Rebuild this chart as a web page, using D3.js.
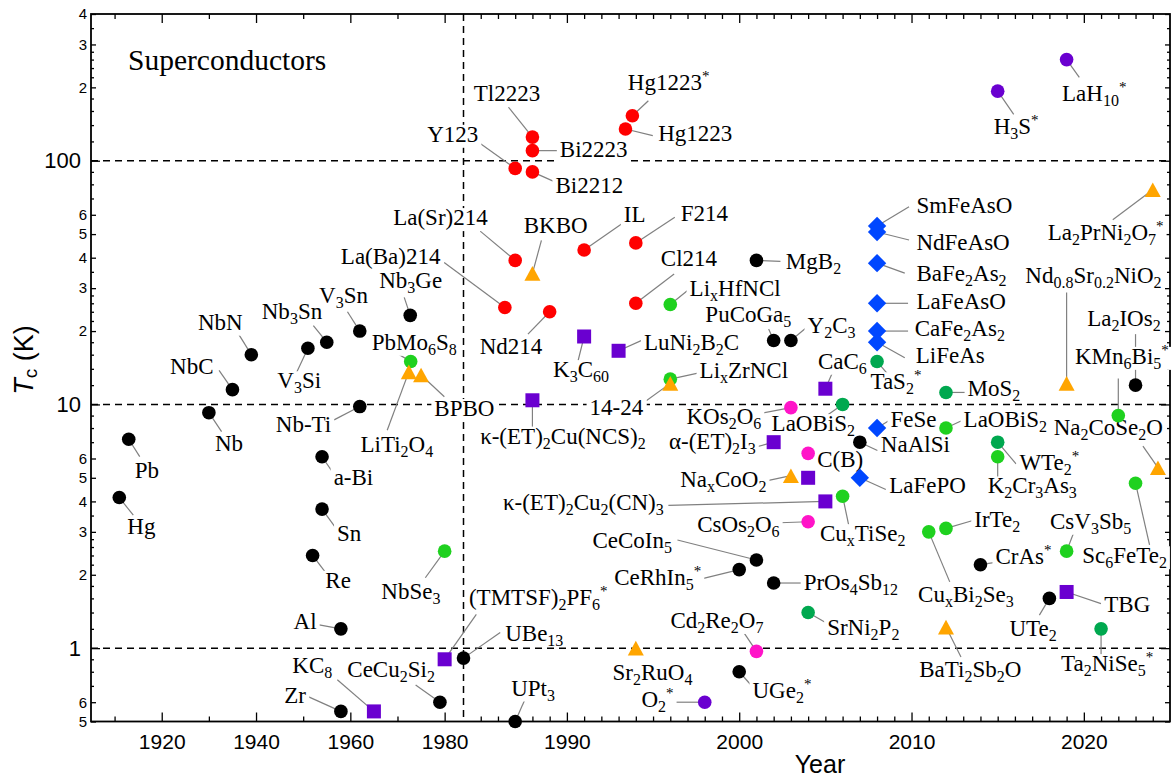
<!DOCTYPE html>
<html>
<head>
<meta charset="utf-8">
<script src="https://cdn.jsdelivr.net/npm/d3@7"></script>
<style>
  body { margin: 0; background: #fff; }
  svg { display: block; }
  .lbl { font-family: "Liberation Serif", "Times New Roman", serif; font-size: 23px; fill: #000; }
</style>
</head>
<body>
<svg id="chart" width="1171" height="778"></svg>
<script>
// each entry: [label, year, Tc in K]   ( _x = subscript, ^* = superscript star )
const conventional = [
  ["Hg", 1911, 4.15], ["Pb", 1913, 7.2], ["Nb", 1930, 9.25], ["NbC", 1935, 11.5],
  ["NbN", 1939, 16], ["V_3Si", 1951, 17], ["Nb_3Sn", 1955, 18], ["V_3Sn", 1962, 20],
  ["Nb-Ti", 1962, 9.8], ["a-Bi", 1954, 6.1], ["Sn", 1954, 3.72], ["Re", 1952, 2.4],
  ["Al", 1958, 1.2], ["Zr", 1958, 0.55], ["Nb_3Ge", 1972.7, 23.2], ["CeCu_2Si_2", 1979, 0.6],
  ["UBe_13", 1984, 0.91], ["UPt_3", 1987, 0.5], ["MgB_2", 2001, 39], ["PuCoGa_5", 2002, 18.3],
  ["Y_2C_3", 2003, 18.3], ["CeCoIn_5", 2001, 2.3], ["CeRhIn_5^*", 2000, 2.1], ["PrOs_4Sb_12", 2002, 1.85],
  ["UGe_2^*", 2000, 0.8], ["NaAlSi", 2007, 7], ["CrAs^*", 2014, 2.2], ["UTe_2", 2018, 1.6],
  ["La_2IOs_2", 2023, 12]
];
const cuprates = [
  ["La(Ba)214", 1986.4, 25], ["La(Sr)214", 1987, 39], ["Y123", 1987, 93], ["Bi2212", 1988, 90],
  ["Bi2223", 1988, 110], ["Tl2223", 1988, 125], ["Hg1223", 1993.4, 135], ["Hg1223^*", 1993.8, 153],
  ["Nd214", 1989, 24], ["IL", 1991, 43], ["F214", 1994, 46], ["Cl214", 1994, 26]
];
const oxides = [
  ["LiTi_2O_4", 1972.4, 13.6], ["BPBO", 1975, 13.2], ["BKBO", 1988, 34.5], ["14-24", 1996, 12.2],
  ["Sr_2RuO_4", 1994, 1.0], ["Na_xCoO_2", 2003, 5.1], ["BaTi_2Sb_2O", 2012, 1.22],
  ["Nd_0.8Sr_0.2NiO_2", 2019, 12.2], ["La_2PrNi_2O_7^*", 2024, 76], ["Na_2CoSe_2O", 2024.3, 5.5]
];
const organics = [
  ["KC_8", 1965, 0.55], ["(TMTSF)_2PF_6^*", 1980, 0.9], ["κ-(ET)_2Cu(NCS)_2", 1988, 10.4],
  ["K_3C_60", 1991, 19], ["LuNi_2B_2C", 1993, 16.6], ["α-(ET)_2I_3", 2002, 7], ["C(B)", 2004, 5],
  ["κ-(ET)_2Cu_2(CN)_3", 2005, 4], ["CaC_6", 2005, 11.6], ["TBG", 2019, 1.7]
];
const hydrides = [["O_2^*", 1998, 0.6], ["H_3S^*", 2015, 193], ["LaH_10^*", 2019, 260]];
const ironBased = [
  ["SmFeAsO", 2008, 54], ["NdFeAsO", 2008, 51], ["BaFe_2As_2", 2008, 38], ["LaFeAsO", 2008, 26],
  ["CaFe_2As_2", 2008, 20], ["LiFeAs", 2008, 18], ["FeSe", 2008, 8], ["LaFePO", 2007, 5]
];
const greens = [
  ["PbMo_6S_8", 1972.8, 15], ["NbSe_3", 1980, 2.5], ["Li_xHfNCl", 1996, 25.7], ["Li_xZrNCl", 1996, 12.7],
  ["Cu_xTiSe_2", 2006, 4.2], ["LaOBiS_2", 2012, 8], ["K_2Cr_3As_3", 2015, 6.1], ["IrTe_2", 2012, 3.1],
  ["Cu_xBi_2Se_3", 2011, 3], ["CsV_3Sb_5", 2019, 2.5], ["Sc_6FeTe_2", 2023, 4.75], ["KMn_6Bi_5^*", 2022, 9]
];
const teals = [
  ["LaOBiS_2", 2006, 10], ["TaS_2^*", 2008, 15], ["MoS_2", 2012, 11.2], ["WTe_2^*", 2015, 7],
  ["SrNi_2P_2", 2004, 1.4], ["Ta_2NiSe_5^*", 2021, 1.2]
];
const pinks = [["KOs_2O_6", 2003, 9.7], ["", 2004, 6.3], ["CsOs_2O_6", 2004, 3.3], ["Cd_2Re_2O_7", 2001, 0.97]];

const xMajor = [1920, 1940, 1960, 1980, 1990, 2000, 2010, 2020];
const yMajor = [1, 10, 100];

// drawing order and marker style per group
const groups = [
  {data: conventional, shape: "circle", color: "#000000"},
  {data: cuprates, shape: "circle", color: "#ff0000"},
  {data: ironBased, shape: "diamond", color: "#0047ff"},
  {data: organics, shape: "square", color: "#6a00d0"},
  {data: hydrides, shape: "circle", color: "#6a00d0"},
  {data: pinks, shape: "circle", color: "#ff14c8"},
  {data: teals, shape: "circle", color: "#00a84f"},
  {data: greens, shape: "circle", color: "#1fd11f"},
  {data: oxides, shape: "triangle", color: "#ffa500"}
];

// label placement in px from the point: [text x, text baseline, leader end x, leader end y]
const labelPos = {
  "Hg": [8, 36.7, 14, 17.7], "Pb": [6, 39, 11, 17.4], "Nb": [6, 38.3, 12.7, 19],
  "NbC": [-62.4, -16, -13.4, -19.3], "NbN": [-53.4, -25, -12.4, -20], "V_3Si": [-30.6, 40, -13.3, 28.4],
  "Nb_3Sn": [-65, -23.4, -13.4, -16.7], "V_3Sn": [-40.7, -27.7, -12.3, -19.3], "Nb-Ti": [-84, 25, -25.7, 13.3],
  "a-Bi": [11.6, 28.3, 12.6, 18.3], "Sn": [15, 31.7, 13.3, 18.3], "Re": [12.7, 32.3, 14.4, 19],
  "Al": [-47.3, 0.3, -21.7, -4], "Zr": [-56.7, -8.4, -33.3, -15], "Nb_3Ge": [-31, -27.6, -6, -18],
  "CeCu_2Si_2": [-92.6, -25.6, -24.3, -17.3], "UBe_13": [41.7, -17.3, 36.7, -25.6], "UPt_3": [-4, -26, 9.3, -21],
  "MgB_2": [29.4, 8.3, 24, 1], "PuCoGa_5": [-68.3, -18, -5, -11.4], "Y_2C_3": [16.6, -7.4, 15, -12.4],
  "CeCoIn_5": [-164, -11.7, -79, -20], "CeRhIn_5^*": [-125, 15.7, -36.7, 9], "PrOs_4Sb_12": [30, 7, 27.7, 0],
  "UGe_2^*": [13.3, 26.6, 13.3, 15], "NaAlSi": [21, 10, 17.6, 8.3], "CrAs^*": [15, -0.7, 15, -2.3],
  "UTe_2": [-40, 37.7, -10, 16.7], "La_2IOs_2": [-48.4, -59, 0, -51],

  "La(Ba)214": [-164, -43.4, -60.7, -45], "La(Sr)214": [-122, -35.3, -35, -29.3], "Y123": [-88, -26.6, -34.6, -24.6],
  "Bi2212": [23, 21, 22.4, 10], "Bi2223": [27.4, 6.7, 27, 0], "Tl2223": [-58.7, -36, -24, -30],
  "Hg1223": [32.7, 12.4, 27.3, 6.7], "Hg1223^*": [-4.6, -25.7, 16, -15], "Nd214": [-70, 42.3, -21.7, 22.3],
  "IL": [39.7, -27.6, 37.4, -26], "F214": [45, -22.3, 39, -25.6], "Cl214": [25, -37.7, 38.3, -29.4],

  "LiTi_2O_4": [-48.3, 80, -21.6, 58.3], "BPBO": [13.3, 41, 23.3, 21.7], "BKBO": [-8.7, -40, 9, -33],
  "14-24": [-80.7, 31.7, -24, 17.4], "Sr_2RuO_4": [-23.3, 31.6], "Na_xCoO_2": [-110.7, 11.6, -23.3, 5],
  "BaTi_2Sb_2O": [-26.7, 50, 15, 30], "Nd_0.8Sr_0.2NiO_2": [-41.3, -100, 0, -91],
  "La_2PrNi_2O_7^*": [-105, 50, -40, 30], "Na_2CoSe_2O": [-104.3, -32.6, -15, -21.6],

  "KC_8": [-81.6, -38.4, -36.6, -31.7], "(TMTSF)_2PF_6^*": [24.3, -54, 31.7, -45],
  "κ-(ET)_2Cu(NCS)_2": [-52.3, 43.3, 0, 31.7], "K_3C_60": [-31, 40.7, -6, 24], "LuNi_2B_2C": [25.3, -0.7, 23.7, -10.7],
  "α-(ET)_2I_3": [-104.7, 7.3, -20.7, 5.6], "C(B)": [9, -10.8, 5, -5], "κ-(ET)_2Cu_2(CN)_3": [-322.4, 9, -157, 4],
  "CaC_6": [-7.4, -20, 6.6, -15], "TBG": [37.7, 20, 34.4, 11.6],

  "O_2^*": [-63.3, 4.4, -31.7, 0], "H_3S^*": [-4, 43.3, 16, 23.3], "LaH_10^*": [-4.6, 41, 12.7, 17.7],

  "SmFeAsO": [39.4, -12.7, 32, -19.3], "NdFeAsO": [39.4, 18, 32, 8], "BaFe_2As_2": [39.4, 18.3, 27.7, 10],
  "LaFeAsO": [39.4, 5.6, 31, 0], "CaFe_2As_2": [37.7, 5, 31, 0], "LiFeAs": [38.7, 21, 27.7, 15.6],
  "FeSe": [13.4, -0.6, 11.7, -7.3], "LaFePO": [29.3, 15, 26, 11.7],

  "PbMo_6S_8": [-39, -11.7, -14, -8.4], "NbSe_3": [-63.3, 48.3, -19.3, 26.6], "Li_xHfNCl": [19.3, -8.6, 17.6, -14.3],
  "Li_xZrNCl": [29.3, -1, 27.6, -6], "Cu_xTiSe_2": [-22.6, 45, 6, 28.3], "LaOBiS_2 2012": [17.6, -1, 15, -7],
  "K_2Cr_3As_3": [-10, 36.7, 0, 24], "IrTe_2": [28.3, -1.6, 26, -7.6], "Cu_xBi_2Se_3": [-10.7, 70, 21, 50],
  "CsV_3Sb_5": [-16.6, -22.4, 6.7, -17.4], "Sc_6FeTe_2": [-53.3, 80, 14, 61.7], "KMn_6Bi_5^*": [-43.3, -51.7, 0, -37],

  "LaOBiS_2 2006": [-71, 26.7, -14.4, 10], "TaS_2^*": [-6.6, 27.7, 15, 17.7], "MoS_2": [21.6, 4, 21.6, 0],
  "WTe_2^*": [21.7, 28.3, 18.4, 21.6], "SrNi_2P_2": [19, 22.7, 17.4, 10], "Ta_2NiSe_5^*": [-40, 42.3, 0, 29],

  "KOs_2O_6": [-104.4, 16, -31.7, 6], "CsOs_2O_6": [-111, 10, -28.3, 1], "Cd_2Re_2O_7": [-86, -23.4, -13.4, -20]
};

const W = 1171, H = 778;
const x = d3.scaleLinear().domain([1905, 1984, 2025]).range([91, 463.5, 1170]);
const y = d3.scaleLog().domain([0.5, 400]).range([721.5, 14]);
const [x0, x1] = [x.range()[0], x.range()[2]];
const [y0, y1] = y.range();

const svg = d3.select("#chart");
svg.append("rect").attr("width", W).attr("height", H).attr("fill", "#fff");

// dashed guide lines
const grid = svg.append("g").attr("stroke", "#000").attr("stroke-width", 1.5).attr("stroke-dasharray", "7,5");
yMajor.forEach(v => grid.append("line").attr("x1", x0).attr("x2", x1).attr("y1", y(v)).attr("y2", y(v)));
grid.append("line").attr("x1", x(1984)).attr("x2", x(1984)).attr("y1", y1).attr("y2", y0);

// ticks
const xMinor = [1910, 1930, 1950, 1970].concat(d3.range(1985, 2025).filter(v => !xMajor.includes(v)));
const yMid = [0.5, 0.6, 2, 3, 4, 5, 6, 20, 30, 40, 50, 60, 200, 300, 400];
const yMinor = [];
[0.1, 1, 10, 100].forEach(dec => [1.2, 1.4, 1.6, 1.8, 2.2, 2.4, 2.6, 2.8, 3.5, 7, 8, 9]
  .forEach(m => { const v = +(m * dec).toPrecision(3); if (v > 0.5 && v < 400) yMinor.push(v); }));
const lead = d => String(Math.round(d / Math.pow(10, Math.floor(Math.log10(d) + 1e-9))));

function drawAxis(axis, tr, size, fontSize) {
  const g = svg.append("g").attr("transform", tr).call(axis.tickSizeInner(-size).tickSizeOuter(0));
  g.select(".domain").remove();
  g.selectAll("line").attr("stroke", "#000").attr("stroke-width", 1.3);
  g.selectAll("text").attr("font-family", "'Liberation Sans', Arial, sans-serif").attr("font-size", fontSize).attr("fill", "#000");
  return g;
}
drawAxis(d3.axisBottom(x).tickValues(xMajor).tickPadding(13).tickFormat(d3.format("d")), `translate(0,${y0})`, 9, 21);
drawAxis(d3.axisBottom(x).tickValues(xMinor).tickFormat(""), `translate(0,${y0})`, 5, 10);
drawAxis(d3.axisTop(x).tickValues(xMajor).tickFormat(""), `translate(0,${y1})`, 9, 10);
drawAxis(d3.axisTop(x).tickValues(xMinor).tickFormat(""), `translate(0,${y1})`, 5, 10);
drawAxis(d3.axisLeft(y).tickValues(yMajor).tickPadding(10).tickFormat(d3.format("d")), `translate(${x0},0)`, 9, 22);
drawAxis(d3.axisLeft(y).tickValues(yMid).tickPadding(4).tickFormat(lead), `translate(${x0},0)`, 5, 15);
drawAxis(d3.axisLeft(y).tickValues(yMinor).tickFormat(""), `translate(${x0},0)`, 3, 10);
drawAxis(d3.axisRight(y).tickValues(yMajor).tickFormat(""), `translate(${x1},0)`, 9, 10);
drawAxis(d3.axisRight(y).tickValues(yMid).tickFormat(""), `translate(${x1},0)`, 5, 10);
drawAxis(d3.axisRight(y).tickValues(yMinor).tickFormat(""), `translate(${x1},0)`, 3, 10);

svg.append("rect").attr("x", x0).attr("y", y1).attr("width", x1 - x0).attr("height", y0 - y1)
  .attr("fill", "none").attr("stroke", "#000").attr("stroke-width", 1.8);

// axis titles
svg.append("text").attr("x", 820).attr("y", 773).attr("text-anchor", "middle")
  .attr("font-family", "'Liberation Sans', Arial, sans-serif").attr("font-size", 25).text("Year");
const yt = svg.append("text").attr("transform", "translate(33,360) rotate(-90)").attr("text-anchor", "middle")
  .attr("font-family", "'Liberation Sans', Arial, sans-serif").attr("font-size", 27);
yt.append("tspan").attr("font-style", "italic").text("T");
yt.append("tspan").attr("font-size", 19).attr("dy", 4).text("c");
yt.append("tspan").attr("dy", -4).text(" (K)");

svg.append("text").attr("class", "lbl").attr("x", 128).attr("y", 70).style("font-size", "29.5px").text("Superconductors");

// labels
const lineLayer = svg.append("g").attr("stroke", "#808080").attr("stroke-width", 1.2);
const bgLayer = svg.append("g");
const textLayer = svg.append("g");
const markLayer = svg.append("g");

function writeLabel(str, px, py) {
  const t = textLayer.append("text").attr("class", "lbl").attr("x", px).attr("y", py);
  let shift = 0;
  str.split(/(_[0-9.x]+|\^\*)/).filter(s => s.length).forEach(p => {
    let target = 0, size = null, txt = p;
    if (p[0] === "_") { target = 5; size = 16; txt = p.slice(1); }
    else if (p === "^*") { target = -9; size = 15; txt = "*"; }
    const ts = t.append("tspan").attr("dy", target - shift).text(txt);
    if (size) ts.attr("font-size", size);
    shift = target;
  });
  const b = t.node().getBBox();
  bgLayer.append("rect").attr("x", b.x - 3).attr("y", py - 17).attr("width", b.width + 6).attr("height", 23).attr("fill", "#fff");
}

function marker(shape, cx, cy, color) {
  if (shape === "circle") {
    markLayer.append("circle").attr("cx", cx).attr("cy", cy).attr("r", 6.8).attr("fill", color);
  } else if (shape === "square") {
    markLayer.append("rect").attr("x", cx - 7).attr("y", cy - 7).attr("width", 14).attr("height", 14).attr("fill", color);
  } else if (shape === "diamond") {
    const r = 9.2;
    markLayer.append("path").attr("d", `M${cx},${cy - r}L${cx + r},${cy}L${cx},${cy + r}L${cx - r},${cy}Z`).attr("fill", color);
  } else {
    const w = 8, h = 7.3;
    markLayer.append("path").attr("d", `M${cx},${cy - h}L${cx + w},${cy + h}L${cx - w},${cy + h}Z`).attr("fill", color);
  }
}

groups.forEach(grp => {
  grp.data.forEach(([name, yr, tc]) => {
    const px = x(yr), py = y(tc);
    const pos = labelPos[`${name} ${yr}`] || labelPos[name];
    if (name && pos) {
      if (pos.length > 2) {
        lineLayer.append("line").attr("x1", px).attr("y1", py).attr("x2", px + pos[2]).attr("y2", py + pos[3]);
      }
      writeLabel(name, px + pos[0], py + pos[1]);
    }
    marker(grp.shape, px, py, grp.color);
  });
});
</script>
</body>
</html>
